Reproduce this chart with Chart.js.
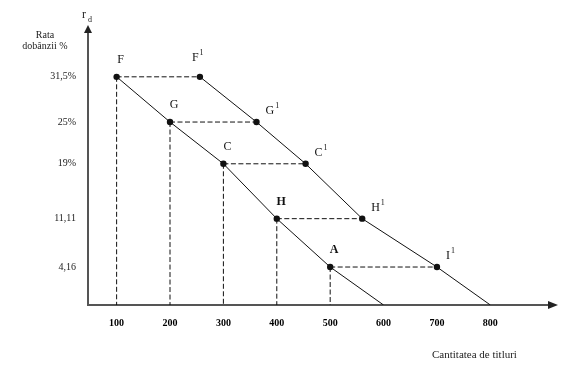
<!DOCTYPE html>
<html>
<head>
<meta charset="utf-8">
<script src="https://cdn.jsdelivr.net/npm/chart.js@4.4.1/dist/chart.umd.min.js"></script>
<style>
html,body{margin:0;padding:0;background:#fff}
</style>
</head>
<body>
<canvas id="c" width="576" height="365"></canvas>
<script>
// axe
const xTicks=[100,200,300,400,500,600,700,800];
const rateTicks=[31.5,25,19,11.11,4.16];
const rateLabels=["31,5%","25%","19%","11,11","4,16"];

// curba initiala F-G-C-H-A si curba deplasata F1-G1-C1-H1-I1
// ultimul punct = unde linia atinge axa orizontala
const names1=["F","G","C","H","A"];
const qty1=[100,200,300,400,500,600];
const rate1=[31.5,25,19,11.11,4.16,-1.3];
const names2=["F","G","C","H","I"];
const qty2=[256,362,454,560,700,800];
const rate2=[31.5,25,19,11.11,4.16,-1.3];

const ink="#111";
const serif='"Liberation Serif","Times New Roman",serif';
const yMin=rate1[rate1.length-1];

const pts=(q,r)=>q.map((x,i)=>({x,y:r[i]}));
const dots=n=>q=>q.map((_,i)=>i<n?3.2:0);

const solid=(q,r)=>({
  data:pts(q,r),showLine:true,borderColor:ink,borderWidth:1,
  pointRadius:dots(5)(q),pointBackgroundColor:ink,pointBorderWidth:0
});
const dash=data=>({
  data,showLine:true,borderColor:ink,borderWidth:1,borderDash:[5,2.5],pointRadius:0
});

const datasets=[
  solid(qty1,rate1),
  solid(qty2,rate2),
  ...names1.map((n,i)=>dash([{x:qty1[i],y:rate1[i]},{x:qty2[i],y:rate2[i]}])),
  ...names1.map((n,i)=>dash([{x:qty1[i],y:rate1[i]},{x:qty1[i],y:yMin}]))
];

function tag(ctx,t,sup,left,mid,bold){
  ctx.font=(bold?"bold ":"")+"12px "+serif;
  ctx.fillText(t,left,mid);
  if(sup){
    const w=ctx.measureText(t).width;
    ctx.font="8px "+serif;
    ctx.fillText(sup,left+w+1,mid-5);
  }
}

const decor={
  id:"decor",
  afterDraw(c){
    const {ctx,chartArea:a}=c;
    ctx.save();
    // sageti
    ctx.fillStyle="#222";
    ctx.beginPath();ctx.moveTo(a.right+10,a.bottom);ctx.lineTo(a.right,a.bottom-4);ctx.lineTo(a.right,a.bottom+4);ctx.closePath();ctx.fill();
    ctx.beginPath();ctx.moveTo(a.left,a.top-8);ctx.lineTo(a.left-4,a.top);ctx.lineTo(a.left+4,a.top);ctx.closePath();ctx.fill();

    // etichete puncte
    ctx.fillStyle="#111";
    ctx.textBaseline="middle";ctx.textAlign="left";
    const m1=c.getDatasetMeta(0).data,m2=c.getDatasetMeta(1).data;
    names1.forEach((n,i)=>{
      const p=m1[i];
      ctx.font="12px "+serif;
      const w=ctx.measureText(n).width;
      tag(ctx,n,"",p.x+4-w/2,p.y-17,n=="H"||n=="A");
    });
    names2.forEach((n,i)=>{
      const p=m2[i];
      if(i==0) tag(ctx,n,"1",p.x-8,p.y-19);
      else tag(ctx,n,"1",p.x+9,p.y-11);
    });

    // titluri axe
    ctx.fillStyle="#222";
    ctx.font="12px "+serif;
    ctx.textBaseline="alphabetic";
    ctx.fillText("r",82,18);
    ctx.font="8px "+serif;
    ctx.fillText("d",88,22);
    ctx.textAlign="center";ctx.textBaseline="middle";
    ctx.font="10px "+serif;
    ctx.fillText("Rata",45,35);
    ctx.fillText("dobânzii %",45,46);
    ctx.textAlign="left";
    ctx.font="11px "+serif;
    ctx.fillText("Cantitatea de titluri",432,355);
    ctx.restore();
  }
};

new Chart(document.getElementById("c"),{
  type:"scatter",
  data:{datasets},
  options:{
    responsive:false,
    animation:false,
    layout:{padding:{top:33,right:28,left:0,bottom:0}},
    plugins:{legend:{display:false},tooltip:{enabled:false}},
    scales:{
      x:{
        type:"linear",min:46.4,max:908,
        afterBuildTicks:s=>{s.ticks=xTicks.map(v=>({value:v}))},
        afterFit:s=>{s.height=60},
        grid:{display:false,drawTicks:false},
        border:{display:true,color:"#555",width:2},
        ticks:{autoSkip:false,maxRotation:0,padding:12,color:"#000",
          font:{family:serif,size:10,weight:"bold"},callback:v=>String(v)}
      },
      y:{
        type:"linear",min:yMin,max:37.8,
        afterBuildTicks:s=>{s.ticks=rateTicks.map(v=>({value:v}))},
        afterFit:s=>{s.width=88},
        grid:{display:false,drawTicks:false},
        border:{display:true,color:"#555",width:2},
        ticks:{autoSkip:false,padding:12,color:"#222",
          font:{family:serif,size:10},callback:(v,i)=>rateLabels[i]}
      }
    }
  },
  plugins:[decor]
});
</script>
</body>
</html>
